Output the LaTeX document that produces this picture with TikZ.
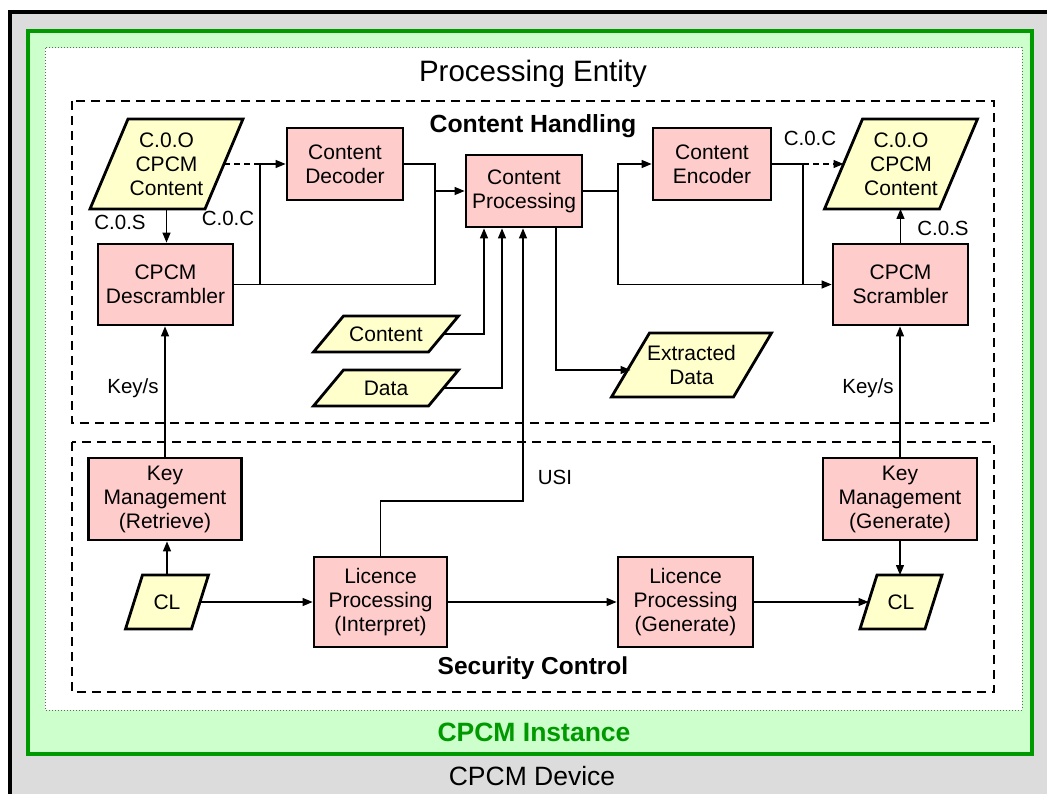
\documentclass[tikz,border=0pt]{standalone}
\usepackage{fontspec}
\setmainfont{Liberation Sans}
\usetikzlibrary{arrows.meta}
\pgfdeclarelayer{bg}
\pgfdeclarelayer{para}
\pgfsetlayers{bg,para,main}
\definecolor{pinkbox}{HTML}{FFCCCC}
\definecolor{yellowbox}{HTML}{FFFFCC}
\definecolor{devgrey}{HTML}{DCDCDC}
\definecolor{instgreen}{HTML}{CCFFCC}
\definecolor{darkgreen}{HTML}{009900}
\newcommand{\boxfont}{\fontsize{21}{24}\selectfont}
\newcommand{\lblfont}{\fontsize{20.5}{24}\selectfont}
\tikzset{
  procbox/.style={draw=black, line width=2.8pt, fill=pinkbox, align=center, font=\boxfont, inner sep=0pt},
  paranode/.style={inner sep=0pt, outer sep=0pt, align=center, font=\boxfont},
  parashape/.style={draw=black, line width=2.8pt, fill=yellowbox, line join=miter},
  conn/.style={line width=1.3pt},
  arr/.style={conn, -{Triangle[length=10pt,width=8pt]}},
  dashconn/.style={dash pattern=on 6pt off 4pt},
  lbl/.style={font=\lblfont, inner sep=0pt},
  groupbox/.style={line width=2.6pt, dash pattern=on 9pt off 6pt},
}
\newcommand{\parabox}[7]{%
  \node[paranode, minimum width=#4pt, minimum height=#5pt] (#1) at (#2,#3) {#7};
  \begin{pgfonlayer}{para}
    \draw[parashape] ([xshift=#6pt/2]#1.north west) -- ([xshift=#6pt/2]#1.north east)
      -- ([xshift=-#6pt/2]#1.south east) -- ([xshift=-#6pt/2]#1.south west) -- cycle;
  \end{pgfonlayer}}
\begin{document}
\begin{tikzpicture}[x=1pt,y=-1pt]
\useasboundingbox (0,0) rectangle (1047,794);
\clip (0,0) rectangle (1047,794);
\begin{pgfonlayer}{bg}
  \draw[line width=4pt, fill=devgrey] (10,12) rectangle (1075,830);
  \draw[line width=4pt, draw=darkgreen, fill=instgreen] (28,31) rectangle (1032,754);
  \draw[line width=1pt, dotted, draw=black!60, fill=white] (45,48) rectangle (1022,710);
  \draw[groupbox] (72,101) rectangle (994,423);
  \draw[groupbox] (72,442) rectangle (994,692);
\end{pgfonlayer}

% titles
\node[font=\fontsize{29.5}{32}\selectfont] (pe) at (533,74) {Processing Entity};
\node[font=\fontsize{24.8}{28}\selectfont\bfseries] (ch) at (533,126) {Content Handling};
\node[font=\fontsize{24.5}{28}\selectfont\bfseries] (sc) at (533,668) {Security Control};
\node[font=\fontsize{26.5}{28}\selectfont\bfseries, text=darkgreen] (ci) at (534,732) {CPCM Instance};
\node[font=\fontsize{26.5}{28}\selectfont] (cd) at (532,776) {CPCM Device};

% processing boxes
\node[procbox, minimum width=116pt, minimum height=72pt] (dec) at (345,164) {Content\\Decoder};
\node[procbox, minimum width=135pt, minimum height=81pt] (descr) at (165.5,284.5) {CPCM\\Descrambler};
\node[procbox, minimum width=116pt, minimum height=72pt] (cp) at (524,191) {Content\\Processing};
\node[procbox, minimum width=118pt, minimum height=72pt] (enc) at (712,164) {Content\\Encoder};
\node[procbox, minimum width=135pt, minimum height=81pt] (scr) at (900.5,284.5) {CPCM\\Scrambler};
\node[procbox, minimum width=153pt, minimum height=82pt] (kmr) at (165,499) {Key\\Management\\(Retrieve)};
\node[procbox, minimum width=154pt, minimum height=82pt] (kmg) at (900,499) {Key\\Management\\(Generate)};
\node[procbox, minimum width=133pt, minimum height=90pt] (lpi) at (380.5,602) {Licence\\Processing\\(Interpret)};
\node[procbox, minimum width=135pt, minimum height=90pt] (lpg) at (685.5,602) {Licence\\Processing\\(Generate)};

% data parallelograms
\parabox{ccoL}{166.5}{164}{115}{90}{38}{C.0.O\\CPCM\\Content}
\parabox{ccoR}{901}{164}{115}{90}{38}{C.0.O\\CPCM\\Content}
\parabox{cont}{386}{334}{115}{36}{30}{Content}
\parabox{data}{386}{388}{115}{36}{30}{Data}
\parabox{extr}{691.5}{365}{122}{64}{38}{Extracted\\Data}
\parabox{cll}{167}{602}{66}{54}{17}{CL}
\parabox{clr}{901}{602}{65}{54}{17}{CL}

% junction columns
\coordinate (xa) at (260,0);
\coordinate (xb) at (435,0);
\coordinate (xc) at (618,0);
\coordinate (xd) at (803,0);
\coordinate (usi) at (523,501);

% content handling connectors
\draw[conn, dashconn] (ccoL.east) -- (dec.west -| xa);
\draw[arr] (descr.east) -- (descr.east -| xa) |- (dec.west);
\draw[arr] (descr.east -| xa) -- (descr.east -| xb) |- (cp.west);
\draw[conn] (dec.east) -| (cp.west -| xb);
\draw[arr] (ccoL.south) -- (ccoL.south |- descr.north);
\draw[arr] (cp.east) -| (enc.west -| xc) -- (enc.west);
\draw[arr] (cp.east -| xc) |- (scr.west);
\draw[conn] (enc.east) -- (enc.east -| xd) -- (scr.west -| xd);
\draw[arr, dashconn] (enc.east -| xd) -- (ccoR.west);
\draw[arr] (scr.north) -- (scr.north |- ccoR.south);
\draw[arr] ([xshift=32pt]cp.south) |- ([yshift=-5pt]extr.west);
\draw[arr] (cont.east) -| ([xshift=-40pt]cp.south);
\draw[arr] (data.east) -| ([xshift=-22pt]cp.south);

% security control connectors
\draw[arr] (kmr.north) -- (kmr.north |- descr.south);
\draw[arr] (kmg.north) -- (kmg.north |- scr.south);
\draw[arr] (cll.north) -- (cll.north |- kmr.south);
\draw[arr] (kmg.south) -- (kmg.south |- clr.north);
\draw[arr] (cll.east) -- (lpi.west);
\draw[arr] (lpi.east) -- (lpg.west);
\draw[arr] (lpg.east) -- (clr.west);
\draw[arr] (lpi.north) |- (usi) -- ([xshift=-1pt]cp.south);

% labels
\node[lbl] (l1) at (120,222) {C.0.S};
\node[lbl] (l2) at (228,218) {C.0.C};
\node[lbl] (l3) at (810,138) {C.0.C};
\node[lbl] (l4) at (943,228) {C.0.S};
\node[lbl] (l5) at (133,388) {Key/s};
\node[lbl] (l6) at (868,388) {Key/s};
\node[lbl] (l7) at (555,477) {USI};
\end{tikzpicture}
\end{document}
